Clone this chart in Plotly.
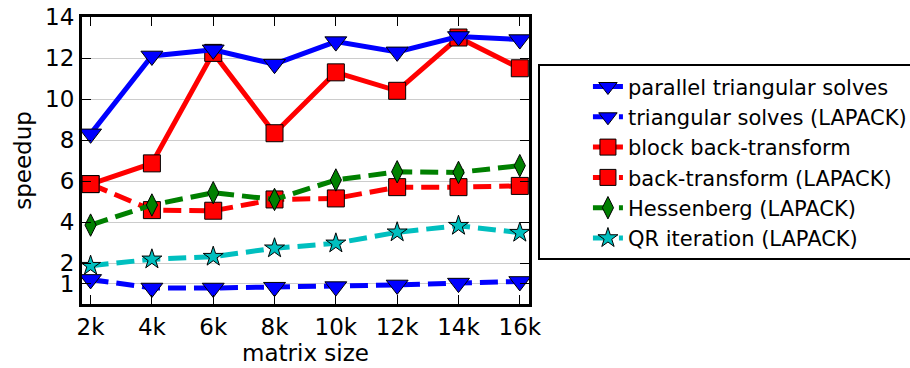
import plotly.graph_objects as go

sizes = ["2k", "4k", "6k", "8k", "10k", "12k", "14k", "16k"]

parallel_tri = [8.3, 12.1, 12.4, 11.7, 12.8, 12.3, 13.05, 12.9]
tri_lapack = [1.2, 0.78, 0.78, 0.82, 0.85, 0.93, 1.02, 1.1]
block_back = [5.85, 6.86, 12.25, 8.33, 11.3, 10.4, 13.0, 11.5]
back_lapack = [5.85, 4.58, 4.55, 5.1, 5.15, 5.7, 5.7, 5.76]
hessenberg = [3.85, 4.83, 5.43, 5.1, 6.05, 6.45, 6.42, 6.75]
qr_iter = [1.87, 2.18, 2.31, 2.72, 2.96, 3.5, 3.82, 3.48]

ytick_vals = [1, 2, 4, 6, 8, 10, 12, 14]

FONT = "DejaVu Sans"
DASH = "18px,8px"

fig = go.Figure()

def add(name, y, color, symbol, msize, dash, rank):
    fig.add_trace(go.Scatter(
        x=sizes, y=y, name=name, mode="lines+markers",
        line=dict(color=color, width=5, dash=dash),
        marker=dict(symbol=symbol, size=msize, color=color,
                    line=dict(color="black", width=1)),
        legendrank=rank, legendgroup=name, cliponaxis=False,
    ))

# drawing order (later on top), legend order by rank
add("block back-transform", block_back, "#ff0000", "square", 17, "solid", 3)
add("back-transform (LAPACK)", back_lapack, "#ff0000", "square", 17, DASH, 4)
add("Hessenberg (LAPACK)", hessenberg, "#008000", "diamond-tall", 16, DASH, 5)
add("QR iteration (LAPACK)", qr_iter, "#00bfbf", "star", 15, DASH, 6)
add("parallel triangular solves", parallel_tri, "#0000ff", "triangle-down", 19, "solid", 1)
add("triangular solves (LAPACK)", tri_lapack, "#0000ff", "triangle-down", 19, DASH, 2)

fig.update_layout(
    width=910, height=368,
    margin=dict(l=82, r=381, t=17, b=64, autoexpand=False),
    paper_bgcolor="white", plot_bgcolor="white",
    font=dict(family=FONT, size=23, color="black"),
    showlegend=True,
    legend=dict(
        x=1.02, y=0.835, xanchor="left", yanchor="top",
        bordercolor="black", borderwidth=2, bgcolor="white",
        font=dict(family=FONT, size=21, color="black"),
        traceorder="grouped", tracegroupgap=0, indentation=48,
    ),
)

fig.update_xaxes(
    type="category", range=[-0.14, 7.15], automargin=False,
    showline=True, linecolor="black", linewidth=3, mirror="allticks",
    ticks="inside", ticklen=9, tickcolor="black", tickwidth=1,
    showgrid=False, zeroline=False,
    tickfont=dict(family=FONT, size=23),
    title=dict(text="matrix size", font=dict(family=FONT, size=23), standoff=4),
)
fig.update_yaxes(
    range=[0, 14], tickvals=ytick_vals, automargin=False,
    showline=True, linecolor="black", linewidth=3, mirror="allticks",
    ticks="inside", ticklen=9, tickcolor="black", tickwidth=1,
    showgrid=True, gridcolor="#cccccc", gridwidth=1, zeroline=False,
    tickfont=dict(family=FONT, size=23),
    title=dict(text="speedup", font=dict(family=FONT, size=23), standoff=8),
)

fig.write_html(
    "out.html",
    config={"displayModeBar": False},
    post_script="document.body.style.margin='0';document.body.style.overflow='hidden';",
)
